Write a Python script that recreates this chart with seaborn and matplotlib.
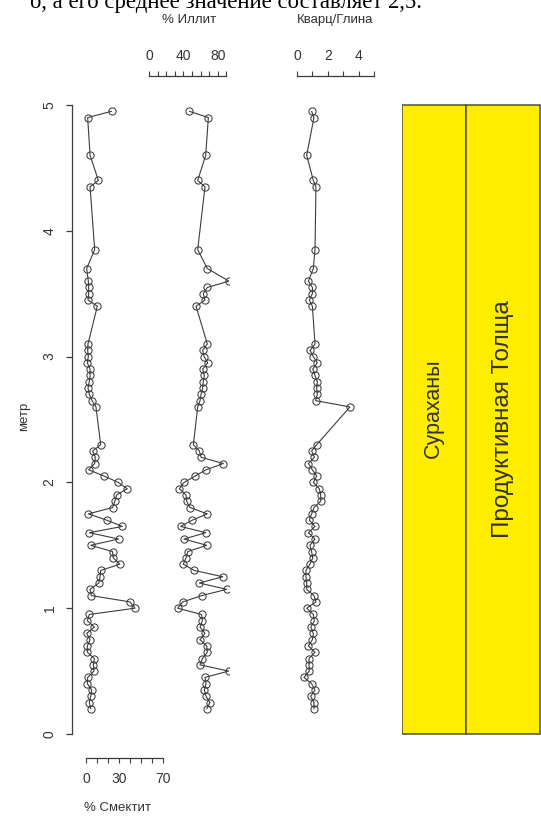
import matplotlib
matplotlib.use("Agg")
import matplotlib.pyplot as plt
import pandas as pd
import seaborn as sns

# Sample depths (m) and measured values for each profile
depth = [4.95, 4.90, 4.60, 4.40, 4.35, 3.85, 3.70, 3.60, 3.55, 3.50, 3.45, 3.40,
         3.10, 3.05, 3.00, 2.95, 2.90, 2.85, 2.80, 2.75, 2.70, 2.65, 2.60,
         2.30, 2.25, 2.20, 2.15, 2.10, 2.05, 2.00, 1.95, 1.90, 1.85, 1.80,
         1.75, 1.70, 1.65, 1.60, 1.55, 1.50, 1.45, 1.40, 1.35, 1.30, 1.25,
         1.20, 1.15, 1.10, 1.05, 1.00, 0.95, 0.90, 0.85, 0.80, 0.75, 0.70,
         0.65, 0.60, 0.55, 0.50, 0.45, 0.40, 0.35, 0.30, 0.25, 0.20]

smectite = [23.4, 1.5, 3.7, 11.3, 3.7, 7.9, 0.6, 2.1, 2.4, 2.4, 1.8, 10.3,
            1.8, 1.5, 2.1, 1.2, 3.7, 3.7, 3.0, 1.8, 3.0, 5.5, 9.1,
            13.4, 6.1, 8.5, 7.9, 2.4, 16.6, 29.4, 37.6, 27.9, 26.3, 24.2,
            2.1, 18.8, 33.1, 3.0, 29.7, 4.3, 24.2, 24.8, 30.9, 13.4, 12.8,
            11.6, 3.7, 4.9, 40.2, 44.7, 3.0, 1.2, 7.6, 0.6, 3.7, 1.2,
            1.2, 7.6, 6.7, 7.3, 1.5, 1.2, 5.2, 4.3, 3.0, 4.3]

illite = [46.9, 69.0, 65.9, 56.6, 65.1, 56.6, 67.8, 93.0, 67.8, 63.1, 65.1, 54.7,
          67.8, 62.4, 64.0, 68.2, 62.4, 64.3, 63.1, 62.4, 60.5, 59.3, 56.6,
          51.6, 58.5, 60.5, 86.4, 66.3, 53.5, 40.7, 35.3, 43.0, 43.8, 47.7,
          67.8, 50.4, 36.8, 65.9, 40.7, 67.1, 45.0, 43.0, 39.9, 52.7, 85.7,
          58.5, 90.3, 61.2, 39.2, 33.3, 61.2, 62.0, 59.3, 65.1, 59.3, 67.1,
          67.8, 62.0, 59.3, 92.5, 65.1, 66.3, 64.3, 66.3, 70.9, 67.1]

quartz_clay = [0.95, 1.10, 0.63, 1.06, 1.23, 1.17, 1.06, 0.74, 1.00, 1.00, 0.80, 1.00,
               1.17, 0.84, 1.06, 1.32, 1.02, 1.17, 1.32, 1.28, 1.32, 1.21, 3.44,
               1.28, 0.95, 1.13, 0.74, 1.00, 1.28, 1.06, 1.45, 1.54, 1.54, 1.10,
               0.95, 0.80, 1.17, 0.74, 1.17, 0.84, 0.95, 1.02, 0.84, 0.58, 0.58,
               0.63, 0.63, 1.10, 1.23, 0.63, 1.06, 1.13, 0.89, 1.06, 1.00, 0.74,
               1.17, 0.78, 0.78, 0.80, 0.45, 0.95, 1.17, 0.89, 1.10, 1.10]

# Stratigraphic units (column label, top and base depth)
units = ["Сураханы", "Продуктивная Толща"]
unit_top = [5.0, 5.0]
unit_base = [0.0, 0.0]

depth_ticks = [0, 1, 2, 3, 4, 5]
smectite_ticks = [0, 10, 20, 30, 40, 50, 60, 70]
smectite_labels = ["0", "", "", "30", "", "", "", "70"]
illite_ticks = [0, 10, 20, 30, 40, 50, 60, 70, 80, 90]
illite_labels = ["0", "", "", "", "40", "", "", "", "80", ""]
qc_ticks = [0, 1, 2, 3, 4, 5]
qc_labels = ["0", "", "2", "", "4", ""]

df = pd.DataFrame({"depth": depth, "smectite": smectite,
                   "illite": illite, "qc": quartz_clay})

sns.set_style("white")
plt.rcParams["font.family"] = ["Liberation Sans", "DejaVu Sans"]

INK = "#3c3c3c"
TXT = "#333333"
W, H = 541, 818
fig = plt.figure(figsize=(W / 100, H / 100), dpi=100)

YLIM = (-0.05, 5.1)
PX_PER_M = 125.8
y0_px = 734
bot_px = y0_px - YLIM[0] * PX_PER_M
top_px = y0_px - YLIM[1] * PX_PER_M
ax_bottom = 1 - bot_px / H
ax_height = (bot_px - top_px) / H


def panel(left_px, right_px):
    return fig.add_axes([left_px / W, ax_bottom, (right_px - left_px) / W, ax_height])


line_kw = dict(sort=False, estimator=None, color=INK, linewidth=0.8,
               marker="o", markersize=5.2, markerfacecolor="none",
               markeredgecolor=INK, markeredgewidth=0.75)

# Smectite panel (also carries the depth axis)
ax_s = panel(72, 162.7)
sns.lineplot(data=df, x="smectite", y="depth", ax=ax_s, **line_kw)
ax_s.set_xlim(-12.8, 70)
ax_s.set_ylim(*YLIM)

# Illite panel
ax_i = panel(149, 229)
sns.lineplot(data=df, x="illite", y="depth", ax=ax_i, **line_kw)
ax_i.set_xlim(0, 93)
ax_i.set_ylim(*YLIM)

# Quartz / clay ratio panel
ax_q = panel(297, 374)
sns.lineplot(data=df, x="qc", y="depth", ax=ax_q, **line_kw)
ax_q.set_xlim(0, 5)
ax_q.set_ylim(*YLIM)

for ax in (ax_s, ax_i, ax_q):
    for s in ("left", "right", "top", "bottom"):
        ax.spines[s].set_visible(False)
    ax.set_facecolor("none")
    ax.set_ylabel("")
    ax.set_xlabel("")

# depth axis
ax_s.spines["left"].set_visible(True)
ax_s.spines["left"].set_bounds(0, 5)
ax_s.spines["left"].set_color(INK)
ax_s.spines["left"].set_linewidth(0.9)
ax_s.set_yticks(depth_ticks)
ax_s.set_yticklabels([str(t) for t in depth_ticks], rotation=90, va="center")
ax_s.tick_params(axis="y", left=True, direction="out", length=4.5, width=0.9,
                 color=INK, labelcolor=TXT, labelsize=10, pad=6.5)
ax_s.set_ylabel("метр", fontsize=9.5, color=TXT, labelpad=9)

# smectite scale at the bottom
ax_s.spines["bottom"].set_visible(True)
ax_s.spines["bottom"].set_position(("outward", 12.5))
ax_s.spines["bottom"].set_bounds(0, 70)
ax_s.spines["bottom"].set_color(INK)
ax_s.spines["bottom"].set_linewidth(0.9)
ax_s.set_xticks(smectite_ticks)
ax_s.set_xticklabels(smectite_labels)
ax_s.tick_params(axis="x", bottom=True, direction="out", length=3.6, width=0.8,
                 color=INK, labelcolor=TXT, labelsize=10, pad=6.5)
ax_s.set_xlabel("% Смектит", fontsize=9.5, color=TXT, labelpad=12)

# illite and quartz/clay scales at the top
for ax, ticks, labels, title in ((ax_i, illite_ticks, illite_labels, "% Иллит"),
                                 (ax_q, qc_ticks, qc_labels, "Кварц/Глина")):
    ax.set_yticks([])
    ax.spines["top"].set_visible(True)
    ax.spines["top"].set_position(("outward", 12))
    ax.spines["top"].set_bounds(ticks[0], ticks[-1])
    ax.spines["top"].set_color(INK)
    ax.spines["top"].set_linewidth(0.9)
    ax.xaxis.tick_top()
    ax.xaxis.set_label_position("top")
    ax.set_xticks(ticks)
    ax.set_xticklabels(labels)
    ax.tick_params(axis="x", top=True, bottom=False, direction="out", length=3.6,
                   width=0.8, color=INK, labelcolor=TXT, labelsize=10, pad=5.5)
    ax.set_xlabel(title, fontsize=9.5, color=TXT, labelpad=19)

# stratigraphic column
ax_c = fig.add_axes([401.7 / W, ax_bottom, (W - 401.7) / W, ax_height])
col_left = [0.0, 64.3]
col_width = [64.3, 74.0]
col_font = [15.5, 17.5]
col_text_depth = [2.59, 2.5]
ax_c.bar(col_left, [t - b for t, b in zip(unit_top, unit_base)], width=col_width,
         bottom=unit_base, align="edge", color="#FFED00", edgecolor="#4f4f38",
         linewidth=1.1)
for x0, w, name, fs, yd in zip(col_left, col_width, units, col_font, col_text_depth):
    ax_c.text(x0 + w / 2, yd, name, rotation=90, ha="center", va="center",
              fontsize=fs, color=TXT)
ax_c.set_xlim(0, W - 401.7)
ax_c.set_ylim(*YLIM)
ax_c.axis("off")

# running text line from the page above the figure
fig.text(30 / W, 1 - 8 / H, "о, а его среднее значение составляет 2,5.",
         family=["Liberation Serif", "DejaVu Serif"], fontsize=16.4, va="baseline",
         ha="left", color="black")

fig.savefig("out.png", dpi=100, facecolor="white")
